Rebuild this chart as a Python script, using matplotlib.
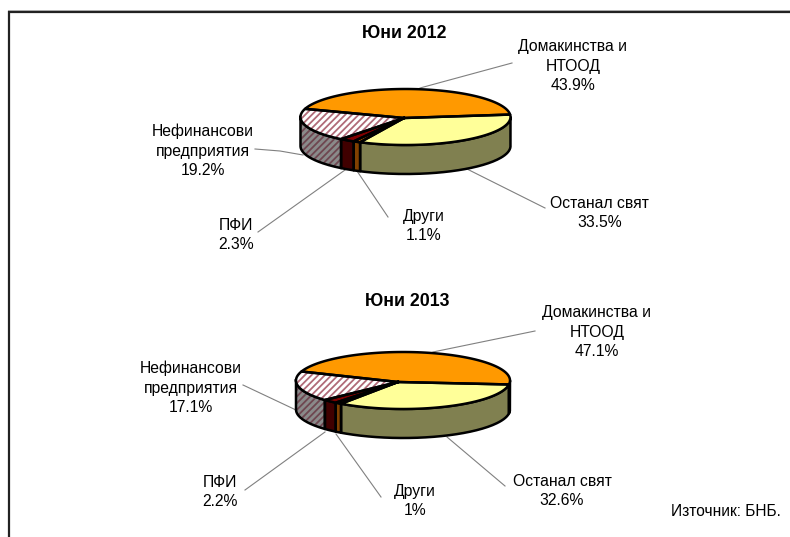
import numpy as np
import matplotlib
matplotlib.use("Agg")
import matplotlib.pyplot as plt

plt.rcParams['font.family'] = ['Liberation Sans', 'DejaVu Sans']
plt.rcParams['hatch.linewidth'] = 1.3

categories = ['Домакинства и\nНТООД', 'Останал свят', 'Други', 'ПФИ', 'Нефинансови\nпредприятия']
shares_2012 = [43.9, 33.5, 1.1, 2.3, 19.2]
shares_2013 = [47.1, 32.6, 1, 2.2, 17.1]

top_colors = ['#FF9900', '#FFFF99', '#CC6600', '#800000', '#FFFFFF']
side_colors = ['#805000', '#808050', '#804000', '#400000', '#8A8A8A']
top_hatch = [None, None, None, None, '#B06A78']
side_hatch = [None, None, None, None, '#6E4650']

# label centre, then leader line points (pixels)
label_pos_2012 = [(573, 66), (599.5, 213), (424, 226), (236, 235), (203, 151)]
leaders_2012 = [[(420, 88), (512, 63)],
                [(467, 169), (545, 208)],
                [(357, 171), (388, 217)],
                [(345, 170), (258, 232)],
                [(303, 155), (280, 151), (255, 149)]]
label_pos_2013 = [(597, 332), (562, 491), (415, 501), (220, 492), (191, 388)]
leaders_2013 = [[(433, 352), (535, 331)],
                [(447, 437), (505, 486)],
                [(336, 434), (381, 497)],
                [(325, 432), (245, 490)],
                [(296, 410), (243, 385)]]


def arc(cx, cy, rx, ry, a, b):
    t = np.radians(np.linspace(a, b, 80))
    return cx + rx * np.cos(t), cy - ry * np.sin(t)


def pie3d(ax, values, cx, cy, rx, ry, depth, start, apex):
    # slices run clockwise from the start, first one goes over the back
    spans = [(start, start + values[0] * 3.6)]
    rest = start
    for v in values[1:]:
        spans.append((rest - v * 3.6, rest))
        rest -= v * 3.6

    # sides, only the front half of the rim shows
    for i, (a, b) in enumerate(spans):
        for shift in (0, -360):
            lo = max(a + shift, -180)
            hi = min(b + shift, 0)
            if hi <= lo:
                continue
            x, y = arc(cx, cy, rx, ry, lo, hi)
            xs = np.concatenate([x, x[::-1]])
            ys = np.concatenate([y, y[::-1] + depth])
            ax.fill(xs, ys, facecolor=side_colors[i], edgecolor='none', zorder=2)
            if side_hatch[i]:
                ax.fill(xs, ys, facecolor='none', edgecolor=side_hatch[i],
                        hatch='/////', linewidth=0, zorder=2.1)
            ax.plot(np.append(xs, xs[0]), np.append(ys, ys[0]), color='black', lw=1.8, zorder=2.2)

    # tops
    for i, (a, b) in enumerate(spans):
        x, y = arc(cx, cy, rx, ry, a, b)
        xs = np.concatenate([[apex[0]], x, [apex[0]]])
        ys = np.concatenate([[apex[1]], y, [apex[1]]])
        ax.fill(xs, ys, facecolor=top_colors[i], edgecolor='none', zorder=3)
        if top_hatch[i]:
            ax.fill(xs, ys, facecolor='none', edgecolor=top_hatch[i],
                    hatch='/////', linewidth=0, zorder=3.1)
        ax.plot(xs, ys, color='black', lw=1.8, zorder=3.2, solid_joinstyle='round')


def labels(ax, values, positions, leaders):
    for name, v, pos, line in zip(categories, values, positions, leaders):
        ax.text(pos[0], pos[1], f"{name}\n{v:g}%", ha='center', va='center',
                fontsize=11.3, linespacing=1.36, color='black', zorder=5)
        pts = np.array(line)
        ax.plot(pts[:, 0], pts[:, 1], color='#808080', lw=0.8, zorder=1)


fig = plt.figure(figsize=(7.9, 5.37), dpi=100)
ax = fig.add_axes([0, 0, 1, 1])
ax.set_xlim(0, 790)
ax.set_ylim(537, 0)
ax.axis('off')

# outer frame, only top and left are in view
ax.plot([9, 9, 790], [537, 11.5, 11.5], color='#222222', lw=1.6, zorder=1,
        solid_joinstyle='miter')
ax.plot([8, 790], [10, 10], color='#BBBBBB', lw=0.7, zorder=0.9)

pie3d(ax, shares_2012, 405.5, 117, 105, 28, 29, 5, (404, 118))
pie3d(ax, shares_2013, 403, 380.5, 107, 28.5, 29, -8, (398, 382))
labels(ax, shares_2012, label_pos_2012, leaders_2012)
labels(ax, shares_2013, label_pos_2013, leaders_2013)

ax.text(404, 33, 'Юни 2012', ha='center', va='center', fontsize=12.8, fontweight='bold')
ax.text(407, 301, 'Юни 2013', ha='center', va='center', fontsize=12.8, fontweight='bold')
ax.text(781, 511, 'Източник: БНБ.', ha='right', va='center', fontsize=11.2)

fig.savefig('out.png', dpi=100)
